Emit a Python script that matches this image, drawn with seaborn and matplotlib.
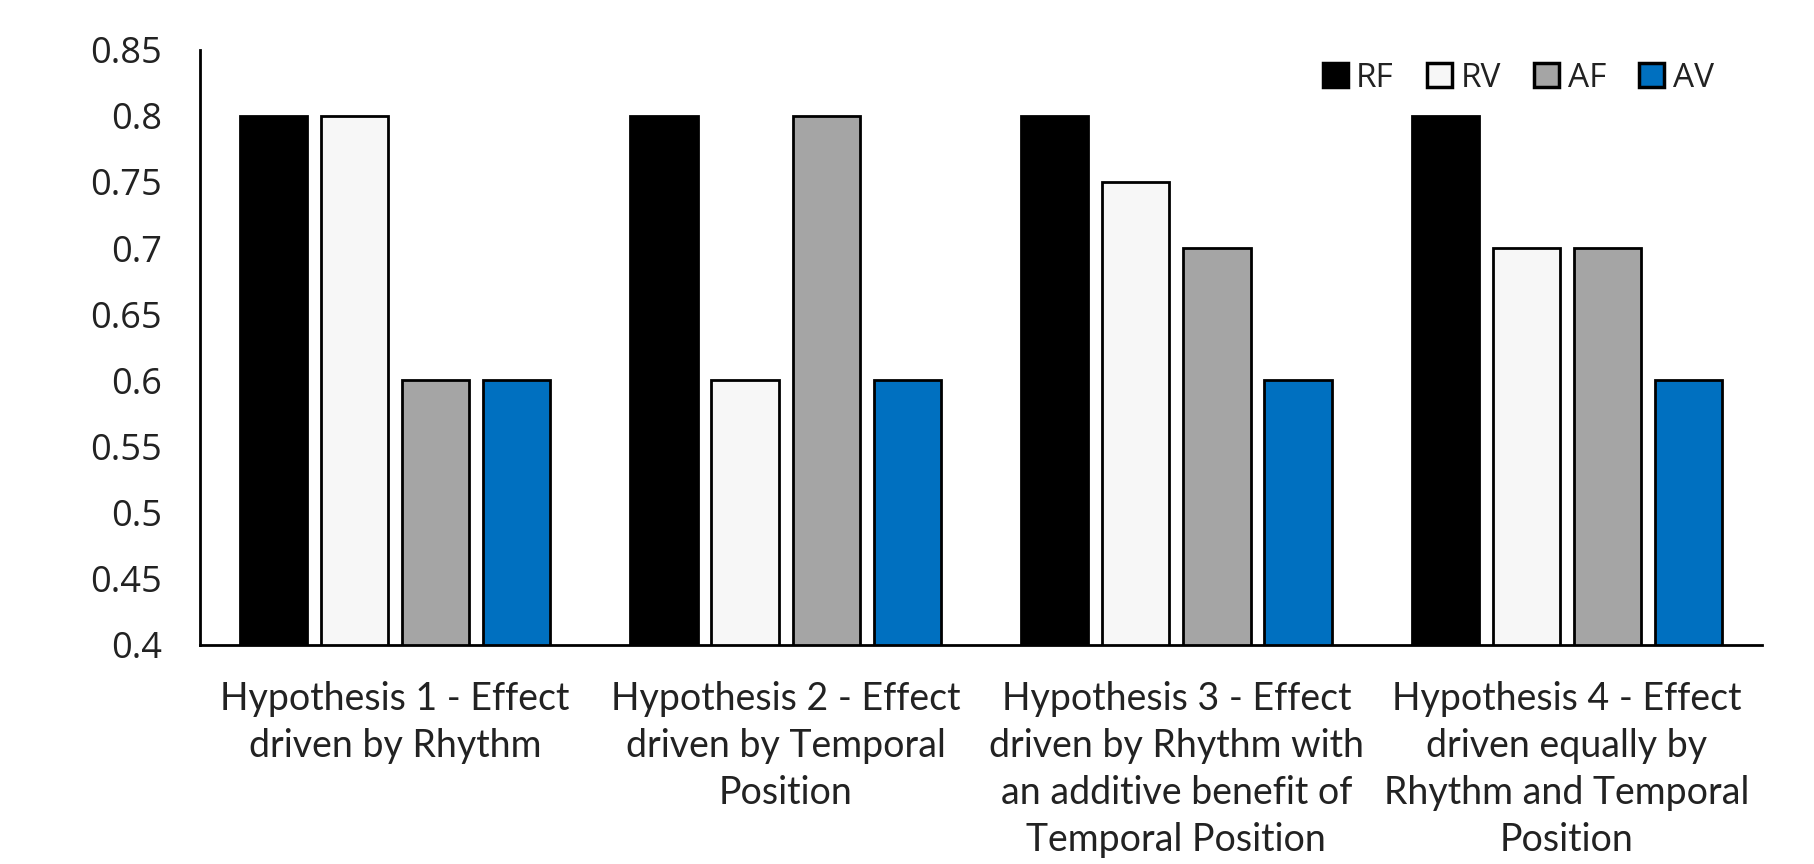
import pandas as pd
import seaborn as sns
import matplotlib.pyplot as plt
from matplotlib.patches import Patch

# Chart data
hypotheses = [
    'Hypothesis 1 - Effect\ndriven by Rhythm',
    'Hypothesis 2 - Effect\ndriven by Temporal\nPosition',
    'Hypothesis 3 - Effect\ndriven by Rhythm with\nan additive benefit of\nTemporal Position',
    'Hypothesis 4 - Effect\ndriven equally by\nRhythm and Temporal\nPosition',
]
conditions = ['RF', 'RV', 'AF', 'AV']
rf = [0.8, 0.8, 0.8, 0.8]
rv = [0.8, 0.6, 0.75, 0.7]
af = [0.6, 0.8, 0.7, 0.7]
av = [0.6, 0.6, 0.6, 0.6]
y_ticks = [0.4, 0.45, 0.5, 0.55, 0.6, 0.65, 0.7, 0.75, 0.8, 0.85]

# Long table for seaborn
rows = []
for cond, vals in zip(conditions, [rf, rv, af, av]):
    for hyp, v in zip(hypotheses, vals):
        rows.append({'Hypothesis': hyp, 'Condition': cond, 'Value': v})
df = pd.DataFrame(rows)

colors = {'RF': '#000000', 'RV': '#F7F7F7', 'AF': '#A5A5A5', 'AV': '#0070C0'}

sns.set_style('white')
plt.rcParams['font.family'] = ['Open Sans', 'DejaVu Sans']

fig = plt.figure(figsize=(18.15, 8.64), dpi=100)
ax = fig.add_axes([0.110, 0.2535, 0.861, 0.689])

sns.barplot(data=df, x='Hypothesis', y='Value', hue='Condition',
            order=hypotheses, hue_order=conditions, palette=colors,
            saturation=1, width=0.83, gap=0.17, edgecolor='black', linewidth=2,
            legend=False, ax=ax)

ax.set_ylim(0.4, 0.85)
ax.set_yticks(y_ticks)
ax.set_yticklabels([f'{t:g}' for t in y_ticks], fontsize=26, color='#222222')
ax.set_xlim(-0.5, 3.5)
ax.set_xticks(range(len(hypotheses)))
ax.set_xticklabels(hypotheses, fontsize=27,
                   family=['Lato', 'DejaVu Sans'], color='#222222',
                   linespacing=1.38)
ax.tick_params(axis='y', length=0, pad=27)
ax.tick_params(axis='x', length=0, pad=26)
ax.set_xlabel('')
ax.set_ylabel('')

for side in ['top', 'right']:
    ax.spines[side].set_visible(False)
for side in ['left', 'bottom']:
    ax.spines[side].set_color('black')
    ax.spines[side].set_linewidth(2)

handles = [Patch(facecolor=colors[c], edgecolor='black', linewidth=2.5, label=c)
           for c in conditions]
leg = ax.legend(handles=handles, ncol=4, frameon=False, fontsize=24,
                loc='upper right', bbox_to_anchor=(0.988, 1.03),
                handlelength=0.75, handleheight=0.75, handletextpad=0.25,
                columnspacing=1.0)
for t in leg.get_texts():
    t.set_color('#222222')

fig.savefig('out.png', dpi=100)
